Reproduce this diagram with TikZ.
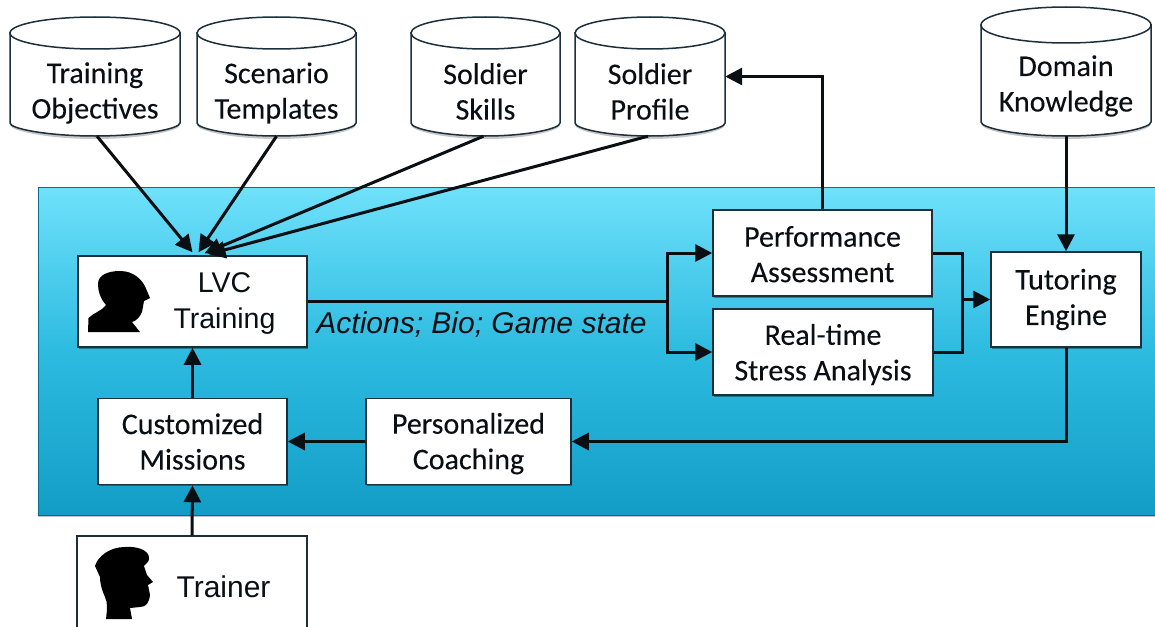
\documentclass[tikz,border=0pt]{standalone}
\usepackage{fontspec}
\setmainfont{Carlito}[FakeBold=0.15]
\newfontfamily\arialish{Liberation Sans}
\newcommand\calbold{\addfontfeature{FakeBold=0.15}}
\usetikzlibrary{arrows.meta,shadows,calc}
\definecolor{edge}{HTML}{1C2F3A}
\definecolor{ink}{HTML}{0A0F14}
\definecolor{paneltop}{HTML}{6FE1FB}
\definecolor{panelmid}{HTML}{2DBBE0}
\definecolor{panelbot}{HTML}{129DC6}
\tikzset{
  x=1pt,y=-1pt,
  panelbox/.style={draw=panelbot!70!black,line width=.6pt,top color=paneltop,bottom color=panelbot,middle color=panelmid,
    drop shadow={shadow xshift=0pt,shadow yshift=-2pt,opacity=.25,fill=black}},
  whitebox/.style={draw=edge,line width=1.5pt,fill=white,align=center,inner sep=0pt,font=\fontsize{30}{35.5}\selectfont\calbold,text=ink,
    drop shadow={shadow xshift=1pt,shadow yshift=-1.5pt,opacity=.35,fill=black}},
  cyltext/.style={align=center,inner sep=0pt,font=\fontsize{30}{35.5}\selectfont\calbold,text=ink},
  cylbody/.style={draw=edge,line width=1.5pt,fill=white},
  plainlabel/.style={inner sep=0pt,align=center,text=ink,font=\arialish\fontsize{28.5}{36}\selectfont},
  conn/.style={draw=ink,line width=3pt},
  arr/.style={conn,-{Triangle[length=17pt,width=17pt]}},
}
% name, x1, x2, top, side top, side bottom, lowest, text-top, text
\newcommand\cylnode[9]{%
  \pgfmathsetmacro\cylcx{(#2+#3)/2}%
  \pgfmathsetmacro\cylrx{(#3-#2)/2}%
  \pgfmathsetmacro\cylry{#5-#4}%
  \pgfmathsetmacro\cylcl{#2+.45*\cylrx}%
  \pgfmathsetmacro\cylcr{#3-.45*\cylrx}%
  \pgfmathsetmacro\cylbc{#6+.45*(#7-#6)}%
  \pgfmathsetmacro\cylnh{#7-#8}%
  \pgfmathsetmacro\cylny{(#7+#8)/2}%
  \fill[black,opacity=.22] (#2,#6+2) .. controls (#2,\cylbc+2) and (\cylcl,#7+3) .. (\cylcx,#7+3) .. controls (\cylcr,#7+3) and (#3,\cylbc+2) .. (#3,#6+2) -- cycle;
  \path[cylbody] (#2,#5) -- (#2,#6) .. controls (#2,\cylbc) and (\cylcl,#7) .. (\cylcx,#7) .. controls (\cylcr,#7) and (#3,\cylbc) .. (#3,#6) -- (#3,#5) -- cycle;
  \path[cylbody] (\cylcx,#5) ellipse [x radius=\cylrx,y radius=\cylry];
  \node[cyltext,minimum width=#3-#2,minimum height=\cylnh] (#1) at (\cylcx,\cylny) {#9};
}
\begin{document}
\begin{tikzpicture}
\clip (0,0) rectangle (1155,626);
\fill[white] (0,0) rectangle (1155,626);
\path[panelbox] (38,187) rectangle (1170,515);

\cylnode{obj}{10}{180}{17}{33}{123}{136}{50}{Training\\Objectives}
\cylnode{scn}{197}{356}{17}{33}{123}{136}{50}{Scenario\\Templates}
\cylnode{skl}{411}{560}{17}{33}{123}{136}{47}{Soldier\\Skills}
\cylnode{prf}{575}{725}{17}{33}{123}{136}{47}{Soldier\\Profile}
\cylnode{dom}{981}{1151}{7}{25}{122}{136}{36}{Domain\\Knowledge}

\node[whitebox,minimum width=229,minimum height=91] (lvc) at (192.5,301.5) {};
\node[whitebox,minimum width=189,minimum height=86] (cus) at (192.5,441.5) {Customized\\Missions};
\node[whitebox,minimum width=205,minimum height=86] (per) at (468.5,441.5) {\rule{0pt}{25pt}Personalized\\Coaching};
\node[whitebox,minimum width=219,minimum height=86] (prfm) at (822.5,253) {\rule{0pt}{23pt}Performance\\Assessment};
\node[whitebox,minimum width=220,minimum height=86] (str) at (823,352) {\rule{0pt}{26pt}Real-time\\Stress Analysis};
\node[whitebox,minimum width=150,minimum height=95] (tut) at (1066,299.5) {Tutoring\\Engine};
\node[whitebox,minimum width=230,minimum height=114] (trn) at (192,593) {};

\node[plainlabel] (lvctext) at (224.5,304) {LVC\\Training};
\node[plainlabel,font=\arialish\fontsize{30}{36}\selectfont] (trntext) at (223.5,587) {Trainer};
\node[plainlabel,font=\arialish\itshape\fontsize{30}{32}\selectfont] (acts) at (481.5,325) {Actions; Bio; Game state};

% soldier silhouette
\fill[black] (88,332) -- (88.5,318) .. controls (93,313) and (102,311) .. (106,305)
  .. controls (100,298) and (98,291) .. (98,284) .. controls (98,275) and (108,271) .. (120,271)
  .. controls (133,271) and (143,279) .. (147,291) -- (150,298) -- (144,301) -- (142,312)
  .. controls (140,317) and (136,321) .. (132,322) -- (140,332) -- cycle;
% trainer silhouette
\fill[black] (106,619) .. controls (107,610) and (108,603) .. (105,597)
  .. controls (101,588) and (100,582) .. (100,577) -- (95,566)
  .. controls (98,556) and (110,547) .. (125,547) .. controls (137,546) and (148,550) .. (149,557)
  .. controls (150,562) and (145,564) .. (144,566) -- (147,575) -- (153,582) -- (148,585)
  -- (150,595) .. controls (149,603) and (146,607) .. (140,607) -- (130,608) -- (132,619) -- cycle;

\coordinate (split) at (667,301.5);
\coordinate (merge) at (962,299.5);

\draw[arr] ([xshift=2pt]obj.south) -- ([xshift=0pt,yshift=3pt]lvc.north);
\draw[arr] ([xshift=0pt]scn.south) -- ([xshift=6pt,yshift=3pt]lvc.north);
\draw[arr] ([xshift=-2pt]skl.south) -- ([xshift=12pt,yshift=2pt]lvc.north);
\draw[arr] ([xshift=-2pt]prf.south) -- ([xshift=16pt,yshift=1pt]lvc.north);

\draw[conn] (lvc.east) -- (split);
\draw[arr] (split) |- (prfm.west);
\draw[arr] (split) |- (str.west);
\draw[conn] (prfm.east) -| (merge);
\draw[conn] (str.east) -| (merge);
\draw[arr] (merge) -- (tut.west);
\draw[arr] (prfm.north) |- ([yshift=15pt]prf.east);
\draw[arr] (dom.south) -- (tut.north);
\draw[arr] (tut.south) |- (per.east);
\draw[arr] (per.west) -- (cus.east);
\draw[arr] (cus.north) -- (lvc.south);
\draw[arr] (trn.north) -- (cus.south);
\end{tikzpicture}
\end{document}
